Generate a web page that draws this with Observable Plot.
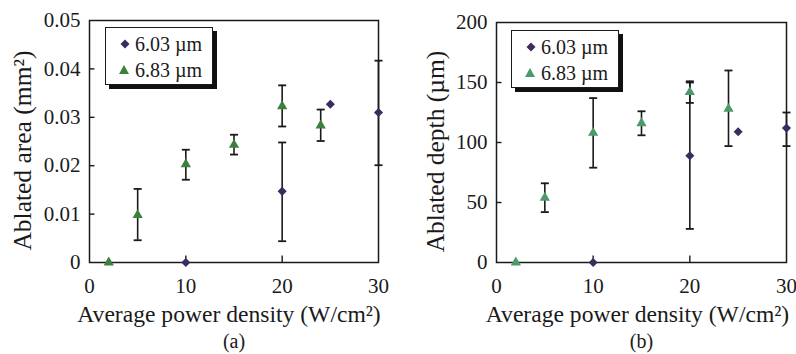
<!DOCTYPE html>
<html>
<head>
<meta charset="utf-8">
<script src="https://cdn.jsdelivr.net/npm/d3@7"></script>
<script src="https://cdn.jsdelivr.net/npm/@observablehq/plot@0.6"></script>
<style>
  html, body { margin: 0; padding: 0; background: #fff; }
  #fig { position: relative; width: 796px; height: 354px; font-family: "Liberation Serif", serif; color: #1a1a1a; }
  .panel { position: absolute; top: 0; }
  .legend { position: absolute; background: #fff; border: 1.3px solid #1a1a1a; box-shadow: 4px 4px 0 #111; font-family: "Liberation Serif", serif; font-size: 20px; color: #1a1a1a; }
  .legend .row { position: absolute; left: 0; white-space: nowrap; line-height: 20px; }
  .legend svg { position: absolute; }
</style>
</head>
<body>
<div id="fig"></div>
<script>
// ---- data ----
const xTicks = [0, 10, 20, 30];
const seriesNames = ["6.03 \u00b5m", "6.83 \u00b5m"];

// (a) ablated area (mm^2)
const areaTicks = [0, 0.01, 0.02, 0.03, 0.04, 0.05];
const area603X  = [10, 20, 25, 30];
const area603Y  = [0, 0.0147, 0.0327, 0.0310];
const area603Lo = [null, 0.0044, null, 0.0201];
const area603Hi = [null, 0.0248, null, 0.0417];
const area683X  = [2, 5, 10, 15, 20, 24];
const area683Y  = [0, 0.0098, 0.0203, 0.0243, 0.0323, 0.0283];
const area683Lo = [null, 0.0046, 0.0171, 0.0223, 0.0281, 0.0251];
const area683Hi = [null, 0.0152, 0.0233, 0.0264, 0.0366, 0.0316];

// (b) ablated depth (um)
const depthTicks = [0, 50, 100, 150, 200];
const depth603X  = [10, 20, 25, 30];
const depth603Y  = [0, 89, 109, 112];
const depth603Lo = [null, 28, null, 97];
const depth603Hi = [null, 150, null, 125];
const depth683X  = [2, 5, 10, 15, 20, 24];
const depth683Y  = [0, 54, 108, 116, 142, 128];
const depth683Lo = [null, 42, 79, 106, 133, 97];
const depth683Hi = [null, 66, 137, 126, 151, 160];

const purple = "#3b2b5e";
const ink = "#1a1a1a";

function rows(xs, ys, los, his) {
  return xs.map((x, i) => ({x, y: ys[i], lo: los[i], hi: his[i]}));
}

const capSym   = {draw(ctx) { ctx.moveTo(-4, 0); ctx.lineTo(4, 0); }};
const yTickSym = {draw(ctx) { ctx.moveTo(0, 0); ctx.lineTo(5, 0); }};
const xTickSym = {draw(ctx) { ctx.moveTo(0, 0); ctx.lineTo(0, -7); }};

function panel(cfg) {
  const s603 = rows(cfg.x603, cfg.y603, cfg.lo603, cfg.hi603);
  const s683 = rows(cfg.x683, cfg.y683, cfg.lo683, cfg.hi683);
  const err = s603.concat(s683).filter(d => d.lo != null);
  const caps = err.flatMap(d => [{x: d.x, y: d.lo}, {x: d.x, y: d.hi}]);
  const yDom = [cfg.yTicks[0], cfg.yTicks[cfg.yTicks.length - 1]];
  return Plot.plot({
    width: 398,
    height: 354,
    marginLeft: cfg.ml,
    marginRight: cfg.mr,
    marginTop: cfg.mt,
    marginBottom: 354 - 262,
    style: {fontFamily: "Liberation Serif, serif", background: "transparent", color: ink, overflow: "visible"},
    x: {domain: [xTicks[0], xTicks[xTicks.length - 1]]},
    y: {domain: yDom},
    marks: [
      Plot.axisX(xTicks, {tickSize: 0, tickPadding: 16, fontSize: 21, label: null, tickFormat: d => String(d)}),
      Plot.axisY(cfg.yTicks, {tickSize: 0, tickPadding: 9, fontSize: 21, label: null, tickFormat: d => String(d)}),
      Plot.dot(cfg.yTicks.slice(1, -1), {x: () => xTicks[0], y: d => d, symbol: yTickSym, fill: "none", stroke: ink, strokeWidth: 1.4}),
      Plot.dot(xTicks.slice(1, -1), {x: d => d, y: () => yDom[0], symbol: xTickSym, fill: "none", stroke: ink, strokeWidth: 1.4}),
      Plot.frame({stroke: ink, strokeWidth: 1.5}),
      Plot.ruleX(err, {x: "x", y1: "lo", y2: "hi", stroke: ink, strokeWidth: 1.6}),
      Plot.dot(caps, {x: "x", y: "y", symbol: capSym, fill: "none", stroke: ink, strokeWidth: 1.8}),
      Plot.dot(s683, {x: "x", y: "y", symbol: "triangle2", r: 4.9, fill: cfg.green, stroke: "none"}),
      Plot.dot(s603, {x: "x", y: "y", symbol: "diamond2", r: 4.1, fill: purple, stroke: "none"}),
      Plot.text([cfg.ylabel], {text: d => d, frameAnchor: "left", textAnchor: "middle", lineAnchor: "middle", rotate: -90, dx: cfg.ylDx, dy: 9, fontSize: 25.5, fill: ink}),
      Plot.text(["Average power density (W/cm\u00b2)"], {text: d => d, frameAnchor: "bottom", textAnchor: "middle", lineAnchor: "middle", dx: cfg.xlDx, dy: 52, fontSize: 23.6, fill: ink}),
      Plot.text([cfg.tag], {text: d => d, frameAnchor: "bottom", textAnchor: "middle", lineAnchor: "middle", dy: 79, fontSize: 20, fill: ink})
    ]
  });
}

function legend(left, top, green) {
  const el = document.createElement("div");
  el.className = "legend";
  el.style.left = left + "px";
  el.style.top = top + "px";
  el.style.width = "106px";
  el.style.height = "56px";
  const mk = [
    `<svg width="12" height="12" style="left:13px;top:10px"><path d="M6,1.5L10.5,6L6,10.5L1.5,6Z" fill="${purple}"/></svg>`,
    `<svg width="12" height="12" style="left:12px;top:36px"><path d="M6,1L11,10L1,10Z" fill="${green}"/></svg>`
  ];
  el.innerHTML = mk.join("") +
    `<div class="row" style="left:29px;top:6px">${seriesNames[0]}</div>` +
    `<div class="row" style="left:29px;top:32px">${seriesNames[1]}</div>`;
  return el;
}

const fig = document.getElementById("fig");

const pa = panel({
  yTicks: areaTicks, x603: area603X, y603: area603Y, lo603: area603Lo, hi603: area603Hi,
  x683: area683X, y683: area683Y, lo683: area683Lo, hi683: area683Hi,
  ml: 89, mr: 20, mt: 20, green: "#3b803c", ylabel: "Ablated area (mm\u00b2)", ylDx: -67, xlDx: -5, tag: "(a)"
});
pa.classList.add("panel"); pa.style.left = "0px";
fig.appendChild(pa);

const pb = panel({
  yTicks: depthTicks, x603: depth603X, y603: depth603Y, lo603: depth603Lo, hi603: depth603Hi,
  x683: depth683X, y683: depth683Y, lo683: depth683Lo, hi683: depth683Hi,
  ml: 98, mr: 10, mt: 22, green: "#4b9a68", ylabel: "Ablated depth (\u00b5m)", ylDx: -61, xlDx: -4, tag: "(b)"
});
pb.classList.add("panel"); pb.style.left = "398px";
fig.appendChild(pb);

fig.appendChild(legend(105, 27, "#3b803c"));
fig.appendChild(legend(511, 30, "#4b9a68"));
</script>
</body>
</html>
